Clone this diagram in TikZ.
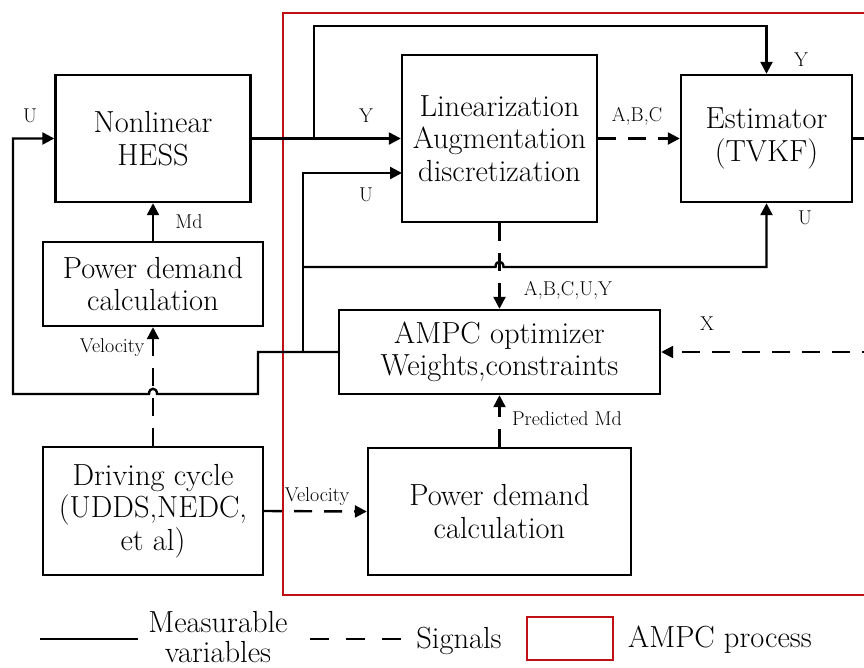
\documentclass[tikz,border=0pt]{standalone}
\usetikzlibrary{arrows.meta}
\definecolor{procred}{RGB}{192,16,22}
\begin{document}
\begin{tikzpicture}[x=1pt,y=-1pt,
 box/.style={draw,line width=2.4pt,align=center,inner sep=0pt,font=\fontsize{30.5}{32.5}\selectfont},
 txt/.style={align=center,inner sep=0pt,font=\fontsize{30.5}{32.5}\selectfont},
 lbl/.style={font=\fontsize{20}{22}\selectfont,inner sep=0pt},
 wire/.style={line width=2.4pt,line join=miter},
 arr/.style={wire,-{Triangle[length=12pt,width=12pt]}},
 dsh/.style={dash pattern=on 18pt off 12pt}]
\useasboundingbox (0,0) rectangle (864,667);
\clip (0,0) rectangle (864,667);
% red process box
\draw[procred,line width=2.2pt] (283,13) rectangle (900,595);
% boxes
\node[box,minimum width=195pt,minimum height=127pt] (hess) at (153,138.5) {Nonlinear\\HESS};
\node[box,minimum width=220pt,minimum height=84pt] (pdc1) at (153,284) {Power demand\\calculation};
\node[box,minimum width=195pt,minimum height=167pt] (lin) at (499.5,138.5) {Linearization\\Augmentation\\discretization};
\node[box,minimum width=171pt,minimum height=127pt] (est) at (766.5,138.5) {Estimator\\(TVKF)};
\node[box,minimum width=321pt,minimum height=84pt] (ampc) at (499.5,352) {AMPC optimizer\\Weights,constraints};
\node[box,minimum width=220pt,minimum height=128pt] (drv) at (153,511) {Driving cycle\\(UDDS,NEDC,\\et al)};
\node[box,minimum width=263pt,minimum height=127pt] (pdc2) at (499.5,511.5) {Power demand\\calculation};
% coordinates
\coordinate (yj) at (314,138.5);
\coordinate (ytop) at (314,26);
\coordinate (uj) at (303,352);
\coordinate (uk) at (303,267);
\coordinate (linU) at (402,173);
\coordinate (fbA) at (258,352);
\coordinate (fbB) at (258,394);
\coordinate (fbC) at (13,394);
\coordinate (estout) at (880,138.5);
\coordinate (xin) at (880,352);
% solid connectors
\draw[arr] (hess.east) -- (lin.west);
\draw[arr] (yj) -- (ytop) -| (est.north);
\draw[arr] (pdc1.north) -- (hess.south);
\draw[arr] (ampc.west) -- (fbA) -- (fbB) -- (157,394) .. controls (157,387) and (149,387) .. (149,394) -- (fbC) |- (hess.west);
\draw[arr] (uj) |- (linU);
\draw[arr] (uk) -- (495.5,267) .. controls (495.5,260) and (503.5,260) .. (503.5,267) -| (est.south);
\draw[wire] (est.east) -- (estout);
% dashed connectors
\draw[arr,dsh] (lin.east) -- (est.west);
\draw[arr,dsh] (lin.south) -- (ampc.north);
\draw[arr,dsh] (xin) -- (ampc.east);
\draw[arr,dsh] (pdc2.north) -- (ampc.south);
\draw[arr,dsh] (drv.north) -- (pdc1.south);
\draw[arr,dsh] (drv.east) -- (pdc2.west);
% labels
\node[lbl] (lU1) at (30,116) {U};
\node[lbl] (lY1) at (366,116) {Y};
\node[lbl] (lU2) at (366,195) {U};
\node[lbl] (lMd) at (189,222) {Md};
\node[lbl] (lABC) at (637,116) {A,B,C};
\node[lbl] (lY2) at (801,60) {Y};
\node[lbl] (lU3) at (805,218) {U};
\node[lbl] (lABCUY) at (568,290) {A,B,C,U,Y};
\node[lbl] (lX) at (707,324) {X};
\node[lbl] (lV1) at (112,348) {Velocity};
\node[lbl] (lV2) at (317,497) {Velocity};
\node[lbl] (lPMd) at (567,419) {Predicted Md};
% legend
\coordinate (ls1) at (40,639);
\coordinate (ls2) at (138,639);
\draw[wire] (ls1) -- (ls2);
\node[txt,anchor=base] (legm1) at (218,632) {Measurable};
\node[txt,anchor=base] (legm2) at (218,662) {variables};
\coordinate (ld1) at (310,639);
\coordinate (ld2) at (402,639);
\draw[wire,dash pattern=on 19pt off 17pt] (ld1) -- (ld2);
\node[txt,anchor=base] (legs) at (459,648) {Signals};
\node[draw=procred,line width=2.2pt,minimum width=86pt,minimum height=43pt,inner sep=0pt] (legr) at (570,638.5) {};
\node[txt,anchor=base] (lega) at (720,647) {AMPC process};
\end{tikzpicture}
\end{document}
